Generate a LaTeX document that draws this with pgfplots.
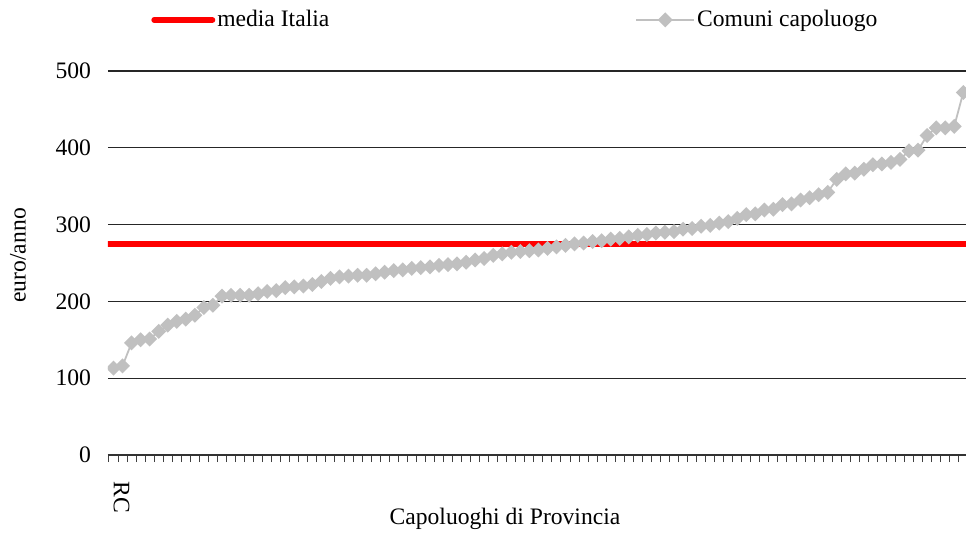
\documentclass[border=0pt]{standalone}
\usepackage{fontspec}
\setmainfont{Liberation Serif}
\usepackage{pgfplots}
\usepackage{pgfplotstable}
\pgfplotsset{compat=1.18}
\definecolor{cgray}{RGB}{192,192,192}
\newcommand{\fnt}{\fontsize{11.8}{14}\selectfont}

% spesa pro capite, capoluoghi ordinati
\pgfplotstableread{
i val
0 113
1 116
2 146
3 150
4 151
5 161
6 169
7 174
8 177
9 182
10 192
11 195
12 207
13 208
14 208
15 208
16 210
17 213
18 214
19 218
20 219
21 220
22 222
23 226
24 230
25 232
26 233
27 234
28 234
29 236
30 238
31 240
32 241
33 243
34 244
35 245
36 247
37 248
38 249
39 251
40 254
41 256
42 260
43 262
44 264
45 265
46 266
47 267
48 269
49 271
50 273
51 275
52 276
53 278
54 279
55 281
56 282
57 284
58 286
59 287
60 289
61 290
62 291
63 294
64 295
65 298
66 299
67 302
68 304
69 308
70 313
71 314
72 319
73 320
74 326
75 327
76 332
77 335
78 339
79 342
80 359
81 366
82 367
83 372
84 378
85 379
86 381
87 385
88 396
89 397
90 416
91 426
92 426
93 428
94 472
95 488
}\capoluoghi

\begin{document}
\begin{tikzpicture}[font=\fnt]
\begin{axis}[
    at={(54pt,38.5pt)}, anchor=south west,
    scale only axis,
    width=429pt, height=192pt,
    xmin=-0.608, xmax=94.3,
    ymin=0, ymax=500,
    ytick={0,100,...,500},
    ymajorgrids,
    major grid style={black!85, line width=0.6pt},
    axis x line*=bottom, axis y line*=left,
    y axis line style={draw=none},
    x axis line style={black!80, line width=0.6pt},
    ytick style={draw=none},
    yticklabel style={xshift=-5pt, font=\fnt},
    /pgf/number format/assume math mode=true,
    xtick={-0.5,0.5,...,95.5},
    xticklabels={},
    xtick align=outside,
    xtick style={black!75, line width=0.5pt},
    major tick length=3.5pt,
    extra x ticks={0},
    extra x tick labels={RC},
    extra x tick style={major tick length=0pt,
        tick label style={xshift=4pt, yshift=-9.7pt, rotate=-90, anchor=west, font=\fnt}},
    xlabel={Capoluoghi di Provincia},
    ylabel={euro/anno},
    every axis x label/.style={at={(axis description cs:0.4627,-0.1667)}, anchor=center, font=\fnt},
    every axis y label/.style={at={(axis description cs:-0.105,0.52)}, rotate=90, anchor=center, font=\fnt},
    clip marker paths=true,
    legend columns=2,
    legend style={draw=none, fill=none, inner sep=0pt, font=\fnt,
        nodes={inner sep=1pt},
        at={(axis description cs:0.0500,1.133)}, anchor=west,
        /tikz/every even column/.append style={column sep=152pt}},
    legend image code/.code={\draw[mark repeat=2,mark phase=2,#1] plot coordinates {(0pt,0pt)(14.5pt,0pt)(29pt,0pt)};},
]
\addplot[red, line width=3pt, line cap=round] coordinates {(-0.608,275) (95,275)};
\addlegendentry{media Italia}
\addplot[cgray, line width=0.9pt, mark=square*, mark size=2.2pt,
    mark options={rotate=45, fill=cgray, draw=cgray}] table[x=i, y=val] {\capoluoghi};
\addlegendentry{Comuni capoluogo}
\end{axis}
\pgfresetboundingbox
\useasboundingbox (0,0) rectangle (483pt,266pt);
\end{tikzpicture}
\end{document}
